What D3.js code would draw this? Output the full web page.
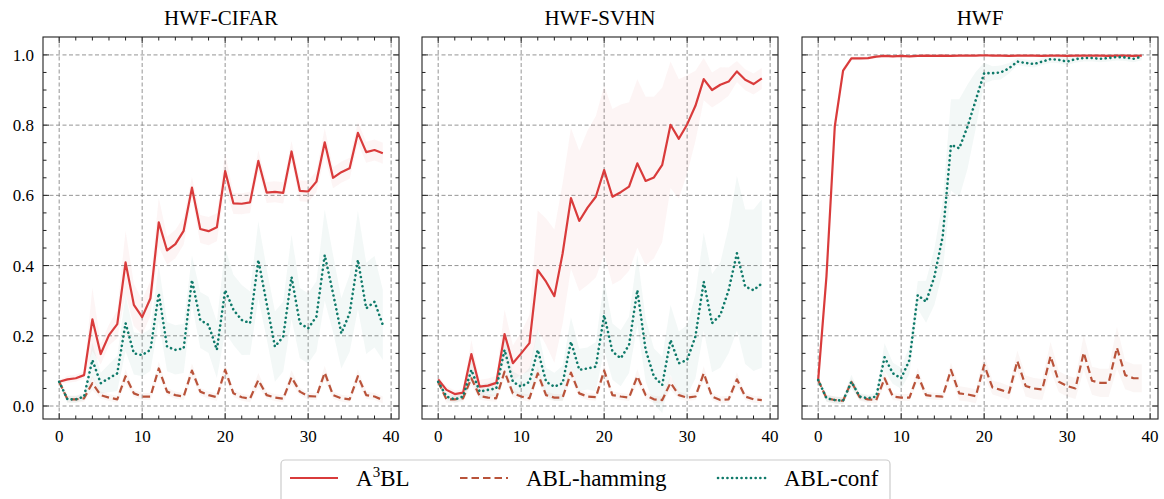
<!DOCTYPE html>
<html>
<head>
<meta charset="utf-8">
<script src="https://cdn.jsdelivr.net/npm/d3@7"></script>
<style>
  body { margin: 0; background: #fff; }
  svg { display: block; }
</style>
</head>
<body>
<svg id="chart" width="1164" height="499"></svg>
<script>
// epochs 0..39
const epochs = d3.range(40);
const titles = ['HWF-CIFAR', 'HWF-SVHN', 'HWF'];
const seriesNames = ['A3BL', 'ABL-hamming', 'ABL-conf'];
const yTicks = [0.0, 0.2, 0.4, 0.6, 0.8, 1.0];
const xTicks = [0, 10, 20, 30, 40];

// HWF-CIFAR
const cifarA3bl = [0.069,0.076,0.079,0.088,0.247,0.148,0.202,0.233,0.409,0.288,0.253,0.307,0.523,0.443,0.461,0.499,0.622,0.504,0.498,0.509,0.669,0.577,0.576,0.580,0.698,0.608,0.610,0.607,0.725,0.613,0.611,0.639,0.751,0.650,0.666,0.677,0.778,0.723,0.729,0.720];
const cifarHamming = [0.069,0.019,0.019,0.022,0.065,0.031,0.024,0.019,0.085,0.036,0.027,0.027,0.107,0.041,0.031,0.027,0.101,0.041,0.031,0.025,0.103,0.036,0.025,0.021,0.074,0.031,0.024,0.021,0.082,0.041,0.028,0.027,0.095,0.031,0.022,0.019,0.085,0.031,0.027,0.017];
const cifarConf = [0.069,0.019,0.019,0.027,0.131,0.065,0.079,0.093,0.236,0.150,0.145,0.160,0.321,0.169,0.160,0.164,0.359,0.245,0.231,0.160,0.330,0.274,0.245,0.236,0.416,0.292,0.169,0.198,0.368,0.236,0.221,0.255,0.430,0.321,0.207,0.264,0.416,0.278,0.297,0.231];
const cifarA3blSd = [0.005,0.01,0.01,0.01,0.09,0.03,0.03,0.04,0.09,0.06,0.05,0.05,0.07,0.04,0.04,0.04,0.03,0.04,0.04,0.04,0.05,0.03,0.03,0.03,0.03,0.03,0.03,0.03,0.03,0.03,0.03,0.03,0.04,0.03,0.03,0.03,0.03,0.03,0.03,0.03];
const cifarHammingSd = [0.005,0.01,0.01,0.01,0.02,0.01,0.01,0.01,0.02,0.01,0.01,0.01,0.02,0.01,0.01,0.01,0.02,0.01,0.01,0.01,0.02,0.01,0.01,0.01,0.02,0.01,0.01,0.01,0.02,0.01,0.01,0.01,0.02,0.01,0.01,0.01,0.02,0.01,0.01,0.01];
const cifarConfSd = [0.005,0.01,0.01,0.01,0.05,0.03,0.04,0.05,0.08,0.06,0.06,0.06,0.08,0.07,0.07,0.07,0.07,0.08,0.08,0.08,0.12,0.10,0.10,0.09,0.11,0.10,0.10,0.10,0.12,0.10,0.10,0.10,0.13,0.11,0.10,0.11,0.14,0.13,0.13,0.10];

// HWF-SVHN
const svhnA3bl = [0.076,0.046,0.034,0.038,0.148,0.055,0.058,0.066,0.205,0.122,0.150,0.179,0.387,0.354,0.313,0.435,0.592,0.527,0.565,0.596,0.672,0.596,0.609,0.625,0.691,0.641,0.651,0.687,0.801,0.761,0.802,0.855,0.931,0.900,0.915,0.924,0.953,0.929,0.917,0.933];
const svhnHamming = [0.069,0.019,0.019,0.022,0.079,0.028,0.024,0.022,0.098,0.036,0.027,0.022,0.093,0.031,0.024,0.024,0.095,0.036,0.027,0.025,0.101,0.031,0.027,0.024,0.085,0.031,0.019,0.017,0.066,0.031,0.024,0.027,0.093,0.027,0.017,0.019,0.076,0.027,0.019,0.017];
const svhnConf = [0.069,0.027,0.019,0.027,0.103,0.041,0.046,0.050,0.160,0.069,0.055,0.069,0.160,0.069,0.055,0.065,0.183,0.103,0.107,0.112,0.259,0.155,0.136,0.174,0.330,0.160,0.084,0.060,0.188,0.122,0.131,0.198,0.354,0.236,0.259,0.330,0.435,0.340,0.330,0.349];
const svhnA3blSd = [0.01,0.01,0.01,0.01,0.04,0.02,0.02,0.02,0.07,0.05,0.06,0.08,0.17,0.18,0.19,0.20,0.20,0.20,0.22,0.23,0.24,0.25,0.25,0.24,0.24,0.24,0.23,0.22,0.18,0.17,0.14,0.10,0.06,0.05,0.05,0.04,0.03,0.03,0.03,0.03];
const svhnHammingSd = [0.005,0.01,0.01,0.01,0.02,0.01,0.01,0.01,0.02,0.01,0.01,0.01,0.02,0.01,0.01,0.01,0.02,0.01,0.01,0.01,0.02,0.01,0.01,0.01,0.02,0.01,0.01,0.01,0.02,0.01,0.01,0.01,0.02,0.01,0.01,0.01,0.02,0.01,0.01,0.01];
const svhnConfSd = [0.01,0.01,0.01,0.01,0.03,0.02,0.02,0.02,0.04,0.03,0.03,0.04,0.06,0.04,0.04,0.05,0.07,0.06,0.06,0.07,0.10,0.08,0.08,0.08,0.10,0.09,0.08,0.08,0.10,0.09,0.10,0.12,0.14,0.14,0.15,0.18,0.22,0.22,0.23,0.24];

// HWF
const hwfA3bl = [0.074,0.370,0.796,0.955,0.990,0.990,0.991,0.995,0.997,0.996,0.997,0.996,0.997,0.998,0.997,0.998,0.997,0.998,0.998,0.998,0.999,0.998,0.998,0.997,0.998,0.998,0.998,0.997,0.998,0.998,0.997,0.998,0.998,0.998,0.998,0.997,0.998,0.998,0.997,0.998];
const hwfHamming = [0.074,0.022,0.017,0.015,0.069,0.025,0.019,0.017,0.079,0.027,0.024,0.024,0.088,0.031,0.028,0.027,0.103,0.036,0.033,0.028,0.117,0.053,0.046,0.038,0.128,0.057,0.050,0.047,0.142,0.069,0.057,0.050,0.152,0.072,0.066,0.066,0.166,0.088,0.079,0.079];
const hwfConf = [0.074,0.022,0.017,0.015,0.069,0.027,0.022,0.027,0.139,0.093,0.079,0.131,0.316,0.297,0.368,0.482,0.744,0.734,0.796,0.872,0.948,0.948,0.950,0.962,0.981,0.977,0.974,0.981,0.988,0.986,0.981,0.988,0.991,0.991,0.989,0.991,0.994,0.993,0.989,0.995];
const hwfA3blSd = [0.005,0.03,0.02,0.01,0.005,0.005,0.004,0.003,0.003,0.003,0.003,0.003,0.003,0.002,0.002,0.002,0.002,0.002,0.002,0.002,0.002,0.002,0.002,0.002,0.002,0.002,0.002,0.002,0.002,0.002,0.002,0.002,0.002,0.002,0.002,0.002,0.002,0.002,0.002,0.002];
const hwfHammingSd = [0.005,0.01,0.01,0.01,0.01,0.01,0.01,0.01,0.02,0.01,0.01,0.01,0.02,0.01,0.01,0.01,0.02,0.02,0.02,0.02,0.03,0.02,0.02,0.02,0.03,0.03,0.03,0.03,0.04,0.03,0.03,0.03,0.05,0.04,0.04,0.04,0.06,0.04,0.04,0.04];
const hwfConfSd = [0.005,0.01,0.01,0.01,0.02,0.01,0.01,0.01,0.04,0.03,0.03,0.04,0.04,0.06,0.08,0.10,0.13,0.14,0.12,0.08,0.03,0.02,0.02,0.015,0.01,0.01,0.01,0.01,0.01,0.01,0.01,0.01,0.01,0.01,0.01,0.01,0.01,0.01,0.01,0.01];

const colors = ['#d93b3b', '#b9533a', '#0f7a6a'];
const dashes = [null, '7.5,4', '0.1,4.6'];
const font = "'Liberation Serif', 'Times New Roman', Times, serif";

const panels = [
  { title: titles[0], series: [cifarA3bl, cifarHamming, cifarConf], sd: [cifarA3blSd, cifarHammingSd, cifarConfSd] },
  { title: titles[1], series: [svhnA3bl, svhnHamming, svhnConf], sd: [svhnA3blSd, svhnHammingSd, svhnConfSd] },
  { title: titles[2], series: [hwfA3bl, hwfHamming, hwfConf], sd: [hwfA3blSd, hwfHammingSd, hwfConfSd] }
];

const svg = d3.select('#chart');
const panelLeft = [43, 422, 802];
const panelW = 356;
const plotTop = 37, plotBottom = 419;

const y = d3.scaleLinear().domain([-0.037, 1.051]).range([plotBottom, plotTop]);

panels.forEach((p, pi) => {
  const x0 = panelLeft[pi];
  const x = d3.scaleLinear().domain([-1.95, 40.95]).range([x0, x0 + panelW]);
  const g = svg.append('g');

  const clipId = 'clip' + pi;
  g.append('clipPath').attr('id', clipId)
    .append('rect').attr('x', x0).attr('y', plotTop).attr('width', panelW).attr('height', plotBottom - plotTop);

  // grid
  g.selectAll('.gx').data(xTicks).join('line')
    .attr('x1', d => x(d)).attr('x2', d => x(d)).attr('y1', plotTop).attr('y2', plotBottom)
    .attr('stroke', '#7a7a7a').attr('stroke-width', 0.8).attr('stroke-dasharray', '4,2.5');
  g.selectAll('.gy').data(yTicks).join('line')
    .attr('x1', x0).attr('x2', x0 + panelW).attr('y1', d => y(d)).attr('y2', d => y(d))
    .attr('stroke', '#7a7a7a').attr('stroke-width', 0.8).attr('stroke-dasharray', '4,2.5');

  const plot = g.append('g').attr('clip-path', `url(#${clipId})`);

  // std bands
  p.series.forEach((s, si) => {
    const area = d3.area()
      .x((d, i) => x(epochs[i]))
      .y0((d, i) => y(d - p.sd[si][i]))
      .y1((d, i) => y(d + p.sd[si][i]));
    plot.append('path').datum(s).attr('d', area)
      .attr('fill', colors[si]).attr('fill-opacity', 0.05);
  });

  // lines
  p.series.forEach((s, si) => {
    const line = d3.line().x((d, i) => x(epochs[i])).y(d => y(d));
    plot.append('path').datum(s).attr('d', line)
      .attr('fill', 'none').attr('stroke', colors[si])
      .attr('stroke-width', si === 2 ? 2.6 : 2.2)
      .attr('stroke-dasharray', dashes[si])
      .attr('stroke-linecap', si === 2 ? 'round' : 'butt')
      .attr('stroke-linejoin', 'round');
  });

  // frame
  g.append('rect').attr('x', x0).attr('y', plotTop).attr('width', panelW).attr('height', plotBottom - plotTop)
    .attr('fill', 'none').attr('stroke', '#222').attr('stroke-width', 1.1);

  // inward ticks on all sides
  const xMinor = d3.range(0, 41, 2);
  const yMinor = d3.range(0, 21).map(d => d * 0.05);
  const tk = g.append('g').attr('stroke', '#222').attr('stroke-width', 1);
  xMinor.forEach(v => {
    const len = v % 10 === 0 ? 6 : 3.5;
    tk.append('line').attr('x1', x(v)).attr('x2', x(v)).attr('y1', plotBottom).attr('y2', plotBottom - len);
    tk.append('line').attr('x1', x(v)).attr('x2', x(v)).attr('y1', plotTop).attr('y2', plotTop + len);
  });
  yMinor.forEach((v, k) => {
    const len = k % 4 === 0 ? 6 : 3.5;
    tk.append('line').attr('y1', y(v)).attr('y2', y(v)).attr('x1', x0).attr('x2', x0 + len);
    tk.append('line').attr('y1', y(v)).attr('y2', y(v)).attr('x1', x0 + panelW).attr('x2', x0 + panelW - len);
  });

  // x labels
  g.selectAll('.xl').data(xTicks).join('text')
    .attr('x', d => x(d)).attr('y', 442).attr('text-anchor', 'middle')
    .attr('font-family', font).attr('font-size', 17).text(d => d);

  if (pi === 0) {
    g.selectAll('.yl').data(yTicks).join('text')
      .attr('x', x0 - 9).attr('y', d => y(d) + 6).attr('text-anchor', 'end')
      .attr('font-family', font).attr('font-size', 17).text(d => d.toFixed(1));
  }

  g.append('text').attr('x', x0 + panelW / 2).attr('y', 25).attr('text-anchor', 'middle')
    .attr('font-family', font).attr('font-size', 21).text(p.title);
});

// legend
const legend = svg.append('g');
legend.append('rect').attr('x', 281).attr('y', 460).attr('width', 609).attr('height', 44)
  .attr('rx', 4).attr('fill', '#fff').attr('stroke', '#cccccc').attr('stroke-width', 1.2);
const legX = [290, 460, 718];
seriesNames.forEach((name, si) => {
  legend.append('line').attr('x1', legX[si]).attr('x2', legX[si] + 48).attr('y1', 478).attr('y2', 478)
    .attr('stroke', colors[si]).attr('stroke-width', si === 2 ? 2.6 : 2.2)
    .attr('stroke-dasharray', dashes[si])
    .attr('stroke-linecap', si === 2 ? 'round' : 'butt');
  const t = legend.append('text').attr('x', legX[si] + 66).attr('y', 486)
    .attr('font-family', font).attr('font-size', 23);
  if (si === 0) {
    t.append('tspan').text('A');
    t.append('tspan').attr('dy', -9).attr('font-size', 15).text('3');
    t.append('tspan').attr('dy', 9).text('BL');
  } else {
    t.text(name);
  }
});
</script>
</body>
</html>
